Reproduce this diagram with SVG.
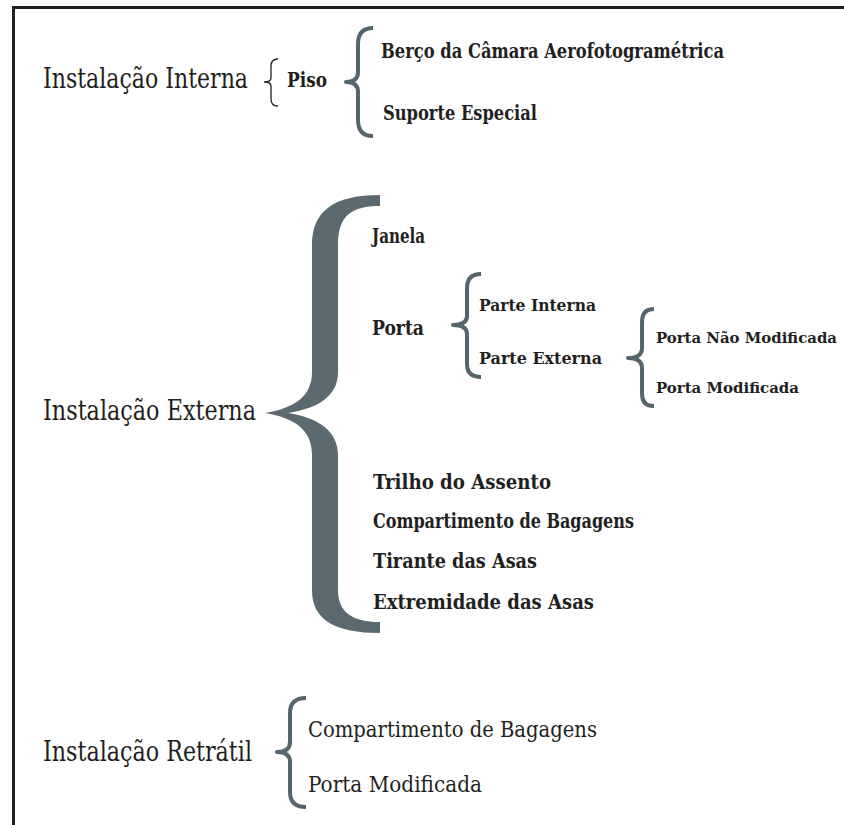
<svg xmlns="http://www.w3.org/2000/svg" width="844" height="825" viewBox="0 0 844 825">
<style>
text{font-family:"DejaVu Serif Condensed","DejaVu Serif","Liberation Serif",serif;fill:#231f20;}
.l1{font-size:27px;}
.b{font-weight:bold;}
.m{font-size:20px;}
.s{font-size:16px;}
.br{fill:none;stroke:#56646b;stroke-width:4;stroke-linecap:butt;stroke-linejoin:round;}
.thin{fill:none;stroke:#231f20;stroke-width:1.3;}
</style>
<rect width="844" height="825" fill="#ffffff"/>
<g id="frame">
<path d="M13.5,825 V7.5 H844" fill="none" stroke="#231f20" stroke-width="3"/>
</g>
<g id="connectors">
<path class="thin" d="M278,59 Q271,59 271,66 V78 Q271,82 264,82 Q271,82 271,86 V99 Q271,106 278,106"/>
<path class="br" d="M373,28 Q358,28 358,44 V72 Q358,82 346,82 Q358,82 358,92 V120 Q358,136 373,136"/>
<path d="M380,195 L380,206 C352,206 338,215 338,245 L338,372 C338,395 320,408 288,413 C320,418 338,432 338,455 L338,590 C338,612 352,622 380,622 L380,633 C335,633 312,620 312,590 L312,455 C312,430 295,418 265,413 C295,408 312,396 312,372 L312,245 C312,210 335,195 380,195 Z" fill="#5a6a70"/>
<path class="br" d="M481,274 Q467,274 467,288 V316 Q467,325 453,325 Q467,325 467,334 V364 Q467,377 481,377"/>
<path class="br" d="M654,309 Q642,309 642,322 V348 Q642,358 628,358 Q642,358 642,368 V394 Q642,406 654,406"/>
<path class="br" d="M306,698 Q290,698 290,713 V742 Q290,752 277,752 Q290,752 290,762 V792 Q290,807 306,807"/>
</g>
<g id="n-interna"><text class="l1" x="43" y="88" textLength="205" lengthAdjust="spacingAndGlyphs">Instalação Interna</text></g>
<g id="n-piso"><text class="b" x="287" y="87" font-size="21" textLength="40" lengthAdjust="spacingAndGlyphs">Piso</text></g>
<g id="n-berco"><text class="b m" x="381" y="58" textLength="343" lengthAdjust="spacingAndGlyphs">Berço da Câmara Aerofotogramétrica</text></g>
<g id="n-suporte"><text class="b m" x="383" y="120" textLength="154" lengthAdjust="spacingAndGlyphs">Suporte Especial</text></g>
<g id="n-externa"><text class="l1" x="43" y="420" textLength="213" lengthAdjust="spacingAndGlyphs">Instalação Externa</text></g>
<g id="n-janela"><text class="b m" x="372" y="243" textLength="53" lengthAdjust="spacingAndGlyphs">Janela</text></g>
<g id="n-porta"><text class="b m" x="372" y="335" textLength="52" lengthAdjust="spacingAndGlyphs">Porta</text></g>
<g id="n-parte-interna"><text class="b s" x="479" y="311" textLength="117" lengthAdjust="spacingAndGlyphs">Parte Interna</text></g>
<g id="n-parte-externa"><text class="b s" x="479" y="364" textLength="123" lengthAdjust="spacingAndGlyphs">Parte Externa</text></g>
<g id="n-porta-nao-mod"><text class="b" x="656" y="343" font-size="15" textLength="181" lengthAdjust="spacingAndGlyphs">Porta Não Modificada</text></g>
<g id="n-porta-mod"><text class="b" x="656" y="393" font-size="15" textLength="143" lengthAdjust="spacingAndGlyphs">Porta Modificada</text></g>
<g id="n-trilho"><text class="b m" x="373" y="489" textLength="178" lengthAdjust="spacingAndGlyphs">Trilho do Assento</text></g>
<g id="n-compartimento"><text class="b m" x="373" y="528" textLength="261" lengthAdjust="spacingAndGlyphs">Compartimento de Bagagens</text></g>
<g id="n-tirante"><text class="b m" x="373" y="568" textLength="164" lengthAdjust="spacingAndGlyphs">Tirante das Asas</text></g>
<g id="n-extremidade"><text class="b m" x="373" y="609" textLength="221" lengthAdjust="spacingAndGlyphs">Extremidade das Asas</text></g>
<g id="n-retratil"><text class="l1" x="43" y="761" textLength="209" lengthAdjust="spacingAndGlyphs">Instalação Retrátil</text></g>
<g id="n-ret-compartimento"><text x="308" y="737" font-size="23" textLength="289" lengthAdjust="spacingAndGlyphs">Compartimento de Bagagens</text></g>
<g id="n-ret-porta-mod"><text x="308" y="792" font-size="23" textLength="174" lengthAdjust="spacingAndGlyphs">Porta Modificada</text></g>
</svg>
